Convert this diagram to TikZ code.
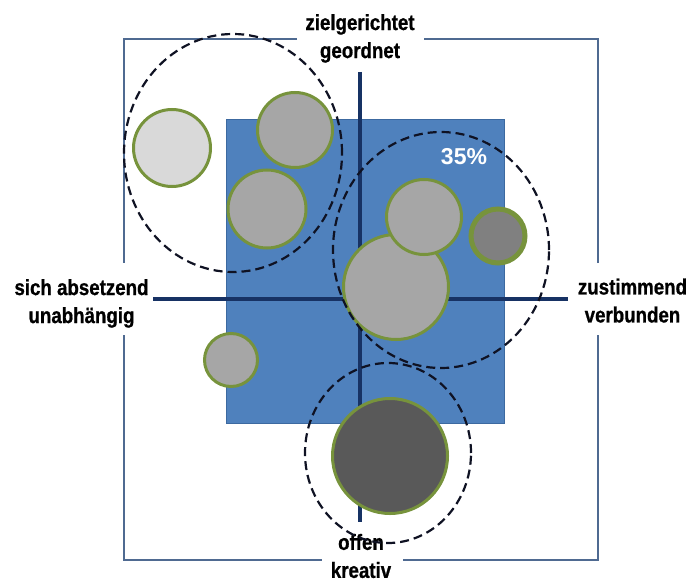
\documentclass[tikz,border=0pt]{standalone}
\usepackage{fontspec}
\setmainfont{Liberation Sans}
\newfontfamily\labfont[FakeStretch=0.85, BoldFeatures={FakeBold=0.8}]{Liberation Sans}
\usetikzlibrary{shapes.geometric}
\definecolor{framecol}{RGB}{79,106,145}
\definecolor{axiscol}{RGB}{23,50,100}
\definecolor{boxblue}{RGB}{79,129,189}
\definecolor{boxedge}{RGB}{60,105,160}
\definecolor{bubgreen}{RGB}{119,147,60}
\definecolor{lightgray}{RGB}{217,217,217}
\definecolor{midgray}{RGB}{166,166,166}
\definecolor{dkgray}{RGB}{128,128,128}
\definecolor{vdkgray}{RGB}{89,89,89}
\definecolor{ringcol}{RGB}{15,18,35}
\begin{document}
\begin{tikzpicture}[x=1pt,y=-1pt,
  frameline/.style={draw=framecol, line width=2.5pt},
  axisline/.style={draw=axiscol, line width=4pt},
  bubble/.style={circle, draw=bubgreen, line width=3pt, inner sep=0pt},
  dashring/.style={draw=ringcol, line width=2.2pt, dash pattern=on 9pt off 5pt},
  lab/.style={align=center, inner sep=0pt, font=\labfont\bfseries\fontsize{22}{28}\selectfont}]
\useasboundingbox (0,0) rectangle (698,583);
% frame
\draw[frameline] (297,39) -- (124,39) -- (124,263);
\draw[frameline] (124,335) -- (124,560) -- (322,560);
\draw[frameline] (403,560) -- (598,560) -- (598,335);
\draw[frameline] (598,263) -- (598,39) -- (424,39);
% labels
\node[lab] (top) at (360,38.4) {zielgerichtet\\geordnet};
\node[lab] (left) at (81.5,303.4) {sich absetzend\\unabhängig};
\node[lab] (right) at (632.5,300.6) {zustimmend\\verbunden};
\node[lab] (bottom) at (361,556) {offen\\kreativ};
% blue box
\node[draw=boxedge, fill=boxblue, line width=1pt, minimum width=278pt, minimum height=304pt, inner sep=0pt] (box) at (365.5,271.5) {};
% axes
\coordinate (vt) at (360,72);
\coordinate (vb) at (360,522);
\coordinate (hl) at (153,299);
\coordinate (hr) at (568,299);
\draw[axisline] (vt) -- (vb);
\draw[axisline] (hl) -- (hr);
% bubbles
\node[bubble, fill=midgray, minimum size=105pt] (E) at (396,287) {};
\node[bubble, fill=midgray, minimum size=75pt] (D) at (424,217) {};
\node[bubble, fill=lightgray, minimum size=77pt] (A) at (172,148) {};
\node[bubble, fill=midgray, minimum size=75pt] (B) at (295,130) {};
\node[bubble, fill=midgray, minimum size=78pt] (C) at (267,209) {};
\node[bubble, fill=dkgray, line width=5pt, minimum size=54pt] (F) at (498,236) {};
\node[bubble, fill=midgray, minimum size=53pt] (G) at (231,360) {};
\node[bubble, fill=vdkgray, minimum size=115pt] (H) at (390,456) {};
% dashed rings
\coordinate (r1) at (233,153);
\coordinate (r2) at (441,250);
\coordinate (r3) at (388,453);
\draw[dashring] (r1) ellipse [x radius=109pt, y radius=119pt];
\draw[dashring] (r2) ellipse [x radius=108pt, y radius=118pt];
\draw[dashring] (r3) ellipse [x radius=83pt, y radius=90pt];
% percentage
\node[text=white, font=\bfseries\fontsize{23}{28}\selectfont, inner sep=0pt] (pct) at (464,157) {35\%};
\end{tikzpicture}
\end{document}
